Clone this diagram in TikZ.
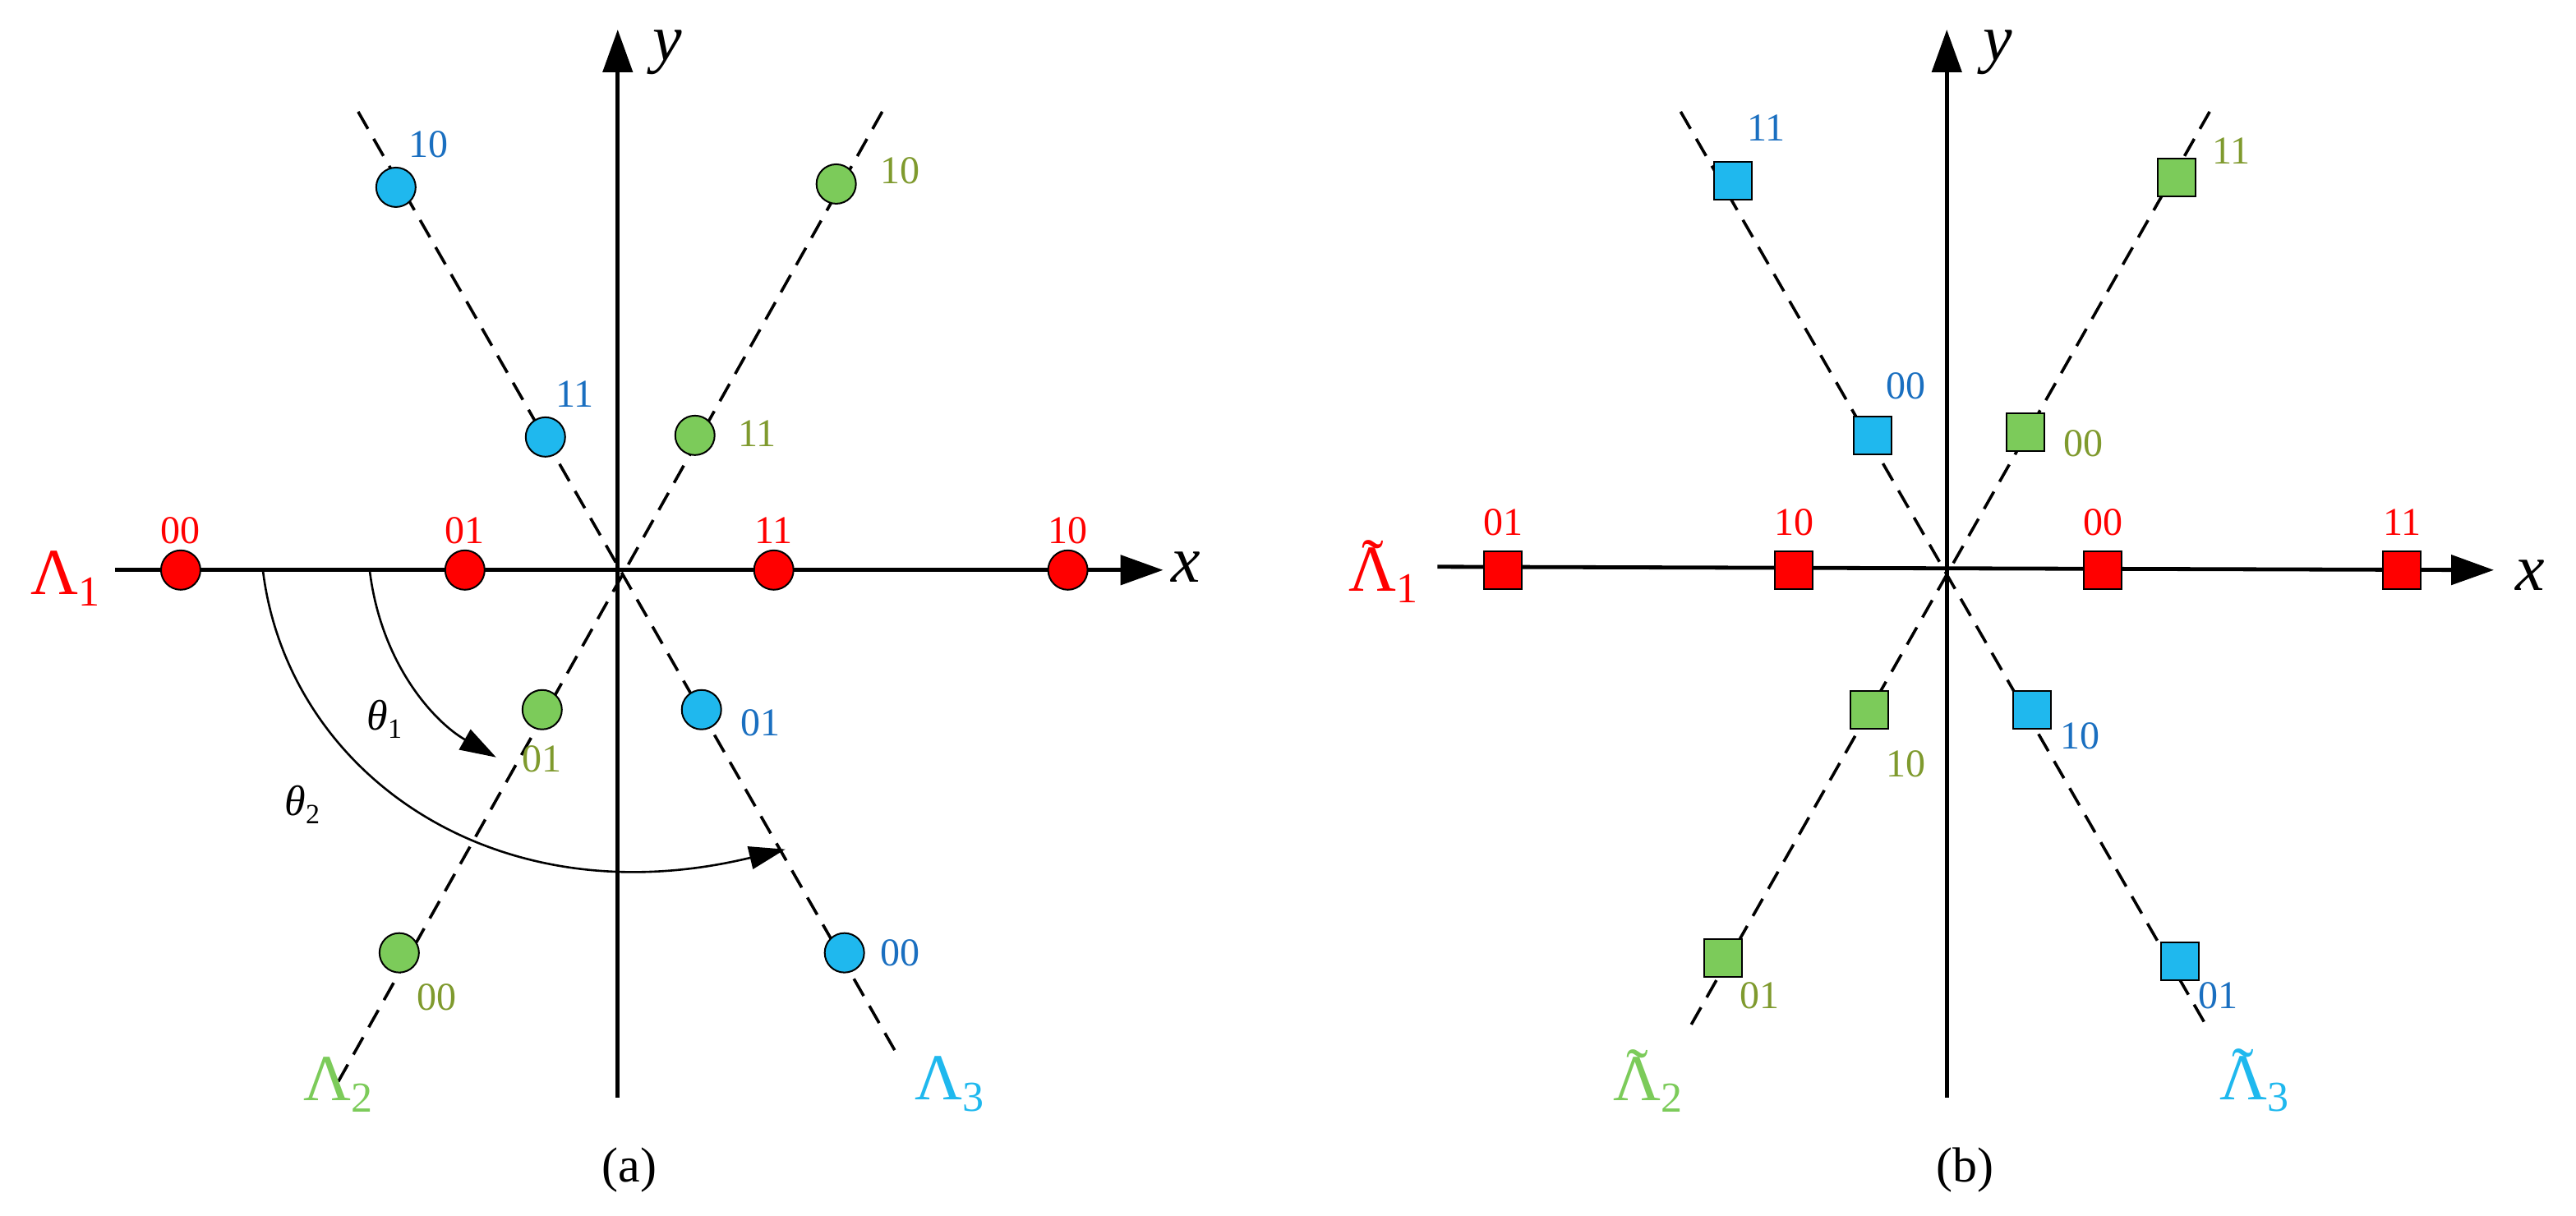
\documentclass[tikz,border=0pt]{standalone}
\usepackage{fontspec}
\setmainfont{Liberation Serif}
\usetikzlibrary{arrows.meta}
\definecolor{rd}{HTML}{FF0000}
\definecolor{gf}{HTML}{7CCB5A}
\definecolor{bf}{HTML}{1FB8EE}
\definecolor{gt}{HTML}{7F9A2E}
\definecolor{bt}{HTML}{1A6FC0}
\newcommand{\Lam}[1]{Λ\raisebox{-7pt}{\fontsize{26}{26}\selectfont #1}}
\newcommand{\tLam}[1]{\ooalign{Λ\cr\hidewidth\raisebox{4pt}{˜}\hidewidth\cr}\raisebox{-7pt}{\fontsize{26}{26}\selectfont #1}}
\newcommand{\thsub}[1]{\textit{θ}\raisebox{-5pt}{\fontsize{17}{17}\selectfont #1}}
\begin{document}
\begin{tikzpicture}[x=1pt,y=-1pt,
 ax/.style={line width=2.4pt,-{Triangle[length=26pt,width=18pt]}},
 dl/.style={line width=1.8pt,dash pattern=on 12pt off 7pt},
 cr/.style={circle,draw,line width=1pt,minimum size=24pt,inner sep=0pt},
 sq/.style={rectangle,draw,line width=1pt,minimum size=23pt,inner sep=0pt},
 lb/.style={font=\fontsize{24}{24}\selectfont,inner sep=0pt},
 big/.style={font=\fontsize{40}{40}\selectfont,inner sep=0pt},
 ar/.style={line width=1.3pt,-{Triangle[length=22pt,width=14pt]}}]
\useasboundingbox (0,0) rectangle (1568,740);
% ===== panel a
\coordinate (gA1) at (537,68); \coordinate (gA2) at (205,660);
\coordinate (bA1) at (218,68); \coordinate (bA2) at (545,640);
\draw[dl] (gA1) -- (gA2);
\draw[dl] (bA1) -- (bA2);
\coordinate (xa0) at (70,347); \coordinate (xa1) at (708,347);
\coordinate (ya0) at (376,668); \coordinate (ya1) at (376,18);
\draw[ax] (xa0) -- (xa1);
\draw[ax] (ya0) -- (ya1);
\node[font=\itshape\fontsize{40}{40}\selectfont] (xla) at (722,345) {x};
\node[font=\itshape\fontsize{40}{40}\selectfont] (yla) at (406,32) {y};
\node[big,text=rd] (L1) at (40,352) {\Lam{1}};
\node[big,text=gf] (L2) at (206,660) {\Lam{2}};
\node[big,text=bf] (L3) at (578,660) {\Lam{3}};
\node[font=\fontsize{30}{30}\selectfont] (capa) at (383,712) {(a)};
\foreach \n/\x/\t in {r1/110/00,r2/283/01,r3/471/11,r4/650/10}{
 \node[cr,fill=rd] (\n) at (\x,347) {};
 \node[lb,text=rd] at (\x,323) {\t};}
\node[cr,fill=gf] (g1) at (509,112) {}; \node[lb,text=gt] at (548,104) {10};
\node[cr,fill=gf] (g2) at (423,265) {}; \node[lb,text=gt] at (461,264) {11};
\node[cr,fill=gf] (g3) at (330,432) {}; \node[lb,text=gt] at (330,462) {01};
\node[cr,fill=gf] (g4) at (243,580) {}; \node[lb,text=gt] at (266,607) {00};
\node[cr,fill=bf] (b1) at (241,114) {}; \node[lb,text=bt] at (261,88) {10};
\node[cr,fill=bf] (b2) at (332,266) {}; \node[lb,text=bt] at (350,240) {11};
\node[cr,fill=bf] (b3) at (427,432) {}; \node[lb,text=bt] at (463,440) {01};
\node[cr,fill=bf] (b4) at (514,580) {}; \node[lb,text=bt] at (548,580) {00};
\coordinate (t1s) at (225,347); \coordinate (t1e) at (302,461);
\draw[ar] (t1s) .. controls (232,405) and (265,440) .. (t1e);
\coordinate (t2s) at (160,347); \coordinate (t2e) at (478,517);
\draw[ar] (t2s) .. controls (175,470) and (300,560) .. (t2e);
\node[font=\fontsize{26}{26}\selectfont] (th1) at (234,438) {\thsub{1}};
\node[font=\fontsize{26}{26}\selectfont] (th2) at (184,490) {\thsub{2}};
% ===== panel b
\coordinate (gB1) at (1345,68); \coordinate (gB2) at (1027,628);
\coordinate (bB1) at (1023,68); \coordinate (bB2) at (1345,628);
\draw[dl] (gB1) -- (gB2);
\draw[dl] (bB1) -- (bB2);
\coordinate (xb0) at (875,345); \coordinate (xb1) at (1518,347);
\coordinate (yb0) at (1185,668); \coordinate (yb1) at (1185,18);
\draw[ax] (xb0) -- (xb1);
\draw[ax] (yb0) -- (yb1);
\node[font=\itshape\fontsize{40}{40}\selectfont] (xlb) at (1540,350) {x};
\node[font=\itshape\fontsize{40}{40}\selectfont] (ylb) at (1216,32) {y};
\node[big,text=rd] (M1) at (842,350) {\tLam{1}};
\node[big,text=gf] (M2) at (1003,660) {\tLam{2}};
\node[big,text=bf] (M3) at (1372,660) {\tLam{3}};
\node[font=\fontsize{30}{30}\selectfont] (capb) at (1196,712) {(b)};
\foreach \n/\x/\t in {s1/915/01,s2/1092/10,s3/1280/00,s4/1462/11}{
 \node[sq,fill=rd] (\n) at (\x,347) {};
 \node[lb,text=rd] at (\x,318) {\t};}
\node[sq,fill=gf] (h1) at (1325,108) {}; \node[lb,text=gt] at (1358,92) {11};
\node[sq,fill=gf] (h2) at (1233,263) {}; \node[lb,text=gt] at (1268,270) {00};
\node[sq,fill=gf] (h3) at (1138,432) {}; \node[lb,text=gt] at (1160,465) {10};
\node[sq,fill=gf] (h4) at (1049,583) {}; \node[lb,text=gt] at (1071,606) {01};
\node[sq,fill=bf] (c1) at (1055,110) {}; \node[lb,text=bt] at (1075,78) {11};
\node[sq,fill=bf] (c2) at (1140,265) {}; \node[lb,text=bt] at (1160,235) {00};
\node[sq,fill=bf] (c3) at (1237,432) {}; \node[lb,text=bt] at (1266,448) {10};
\node[sq,fill=bf] (c4) at (1327,585) {}; \node[lb,text=bt] at (1350,606) {01};
\end{tikzpicture}
\end{document}
